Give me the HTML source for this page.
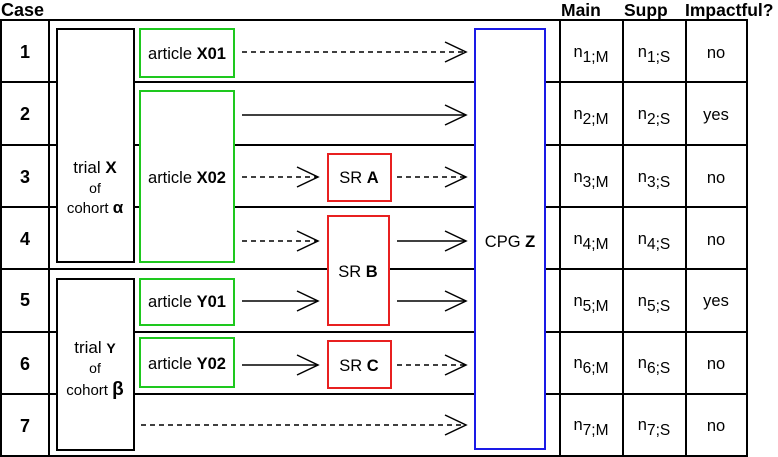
<!DOCTYPE html>
<html><head><meta charset="utf-8"><style>
html,body{margin:0;padding:0;background:#fff;}
svg{display:block;font-family:"Liberation Sans",sans-serif;}
text{font-size:16.5px;fill:#000;}
</style></head><body>
<svg width="778" height="457" viewBox="0 0 778 457" xmlns="http://www.w3.org/2000/svg">
<defs>
<marker id="a" markerWidth="24" markerHeight="22" refX="22" refY="11" orient="auto" markerUnits="userSpaceOnUse">
<path d="M1,1 L22,11 L1,21" fill="none" stroke="#000" stroke-width="1.5"/>
</marker>
</defs>
<g font-weight="bold">
<text x="1" y="16" style="font-size:18px">Case</text>
<text x="561" y="16" style="font-size:17.5px">Main</text>
<text x="624" y="16" style="font-size:17.5px">Supp</text>
<text x="685" y="16" style="font-size:17.5px">Impactful?</text>
</g>
<g stroke="#000" stroke-width="2" fill="none">
<rect x="1" y="20" width="746" height="436"/>
<line x1="49" y1="20" x2="49" y2="456"/>
<line x1="560" y1="20" x2="560" y2="456"/>
<line x1="623" y1="20" x2="623" y2="456"/>
<line x1="686" y1="20" x2="686" y2="456"/>
<line x1="1" y1="82" x2="747" y2="82"/>
<line x1="1" y1="145" x2="747" y2="145"/>
<line x1="1" y1="207" x2="747" y2="207"/>
<line x1="1" y1="269" x2="747" y2="269"/>
<line x1="1" y1="332" x2="747" y2="332"/>
<line x1="1" y1="394" x2="747" y2="394"/>
</g>
<g font-weight="bold" text-anchor="middle" style="font-size:18px">
<text x="25" y="58" style="font-size:18px">1</text><text x="25" y="120" style="font-size:18px">2</text><text x="25" y="183" style="font-size:18px">3</text>
<text x="25" y="245" style="font-size:18px">4</text><text x="25" y="306" style="font-size:18px">5</text><text x="25" y="370" style="font-size:18px">6</text><text x="25" y="432" style="font-size:18px">7</text>
</g>
<rect x="57" y="29" width="77" height="233" fill="#fff" stroke="#000" stroke-width="2"/>
<rect x="57" y="279" width="77" height="171" fill="#fff" stroke="#000" stroke-width="2"/>
<g fill="#fff" stroke="#1ec81e" stroke-width="2">
<rect x="140" y="29" width="94" height="48"/>
<rect x="140" y="91" width="94" height="171"/>
<rect x="140" y="279" width="94" height="46"/>
<rect x="140" y="338" width="94" height="49"/>
</g>
<g fill="#fff" stroke="#e82020" stroke-width="2">
<rect x="328" y="154" width="63" height="47"/>
<rect x="328" y="216" width="61" height="109"/>
<rect x="328" y="341" width="63" height="47"/>
</g>
<rect x="475" y="29" width="70" height="420" fill="#fff" stroke="#1a1ae6" stroke-width="2"/>
<g stroke="#000" stroke-width="1.5" fill="none" marker-end="url(#a)">
<line x1="242" y1="52" x2="466" y2="52" stroke-dasharray="5,4"/>
<line x1="242" y1="115" x2="466" y2="115"/>
<line x1="242" y1="177" x2="318" y2="177" stroke-dasharray="5,4"/>
<line x1="397" y1="177" x2="466" y2="177" stroke-dasharray="5,4"/>
<line x1="242" y1="241" x2="318" y2="241" stroke-dasharray="5,4"/>
<line x1="397" y1="241" x2="466" y2="241"/>
<line x1="242" y1="301" x2="318" y2="301"/>
<line x1="397" y1="301" x2="466" y2="301"/>
<line x1="242" y1="365" x2="318" y2="365"/>
<line x1="397" y1="365" x2="466" y2="365" stroke-dasharray="5,4"/>
<line x1="141" y1="425" x2="466" y2="425" stroke-dasharray="5,4"/>
</g>
<g text-anchor="middle">
<text x="95" y="173" style="font-size:17px">trial <tspan font-weight="bold">X</tspan></text>
<text x="95" y="193" style="font-size:14px">of</text>
<text x="95" y="213" style="font-size:15px">cohort <tspan font-weight="bold" style="font-size:17px">α</tspan></text>
<text x="95" y="353" style="font-size:17px">trial <tspan font-weight="bold" style="font-size:14px">Y</tspan></text>
<text x="95" y="373" style="font-size:14px">of</text>
<text x="95" y="395" style="font-size:15px">cohort <tspan font-weight="bold" style="font-size:19px">β</tspan></text>
<text x="187" y="59">article <tspan font-weight="bold">X01</tspan></text>
<text x="187" y="183">article <tspan font-weight="bold">X02</tspan></text>
<text x="187" y="307">article <tspan font-weight="bold">Y01</tspan></text>
<text x="187" y="369">article <tspan font-weight="bold">Y02</tspan></text>
<text x="359" y="183">SR <tspan font-weight="bold">A</tspan></text>
<text x="358" y="277">SR <tspan font-weight="bold">B</tspan></text>
<text x="359" y="371">SR <tspan font-weight="bold">C</tspan></text>
<text x="510" y="247">CPG <tspan font-weight="bold">Z</tspan></text>
</g>
<g text-anchor="middle">
<text x="591" y="57">n<tspan dy="5" style="font-size:15.5px">1;M</tspan></text>
<text x="654" y="57">n<tspan dy="5" style="font-size:15.5px">1;S</tspan></text>
<text x="716" y="58">no</text>
<text x="591" y="119">n<tspan dy="5" style="font-size:15.5px">2;M</tspan></text>
<text x="654" y="119">n<tspan dy="5" style="font-size:15.5px">2;S</tspan></text>
<text x="716" y="120">yes</text>
<text x="591" y="182">n<tspan dy="5" style="font-size:15.5px">3;M</tspan></text>
<text x="654" y="182">n<tspan dy="5" style="font-size:15.5px">3;S</tspan></text>
<text x="716" y="183">no</text>
<text x="591" y="244">n<tspan dy="5" style="font-size:15.5px">4;M</tspan></text>
<text x="654" y="244">n<tspan dy="5" style="font-size:15.5px">4;S</tspan></text>
<text x="716" y="245">no</text>
<text x="591" y="306">n<tspan dy="5" style="font-size:15.5px">5;M</tspan></text>
<text x="654" y="306">n<tspan dy="5" style="font-size:15.5px">5;S</tspan></text>
<text x="716" y="306">yes</text>
<text x="591" y="368">n<tspan dy="5" style="font-size:15.5px">6;M</tspan></text>
<text x="654" y="368">n<tspan dy="5" style="font-size:15.5px">6;S</tspan></text>
<text x="716" y="369">no</text>
<text x="591" y="430">n<tspan dy="5" style="font-size:15.5px">7;M</tspan></text>
<text x="654" y="430">n<tspan dy="5" style="font-size:15.5px">7;S</tspan></text>
<text x="716" y="431">no</text>
</g>
</svg>
</body></html>
